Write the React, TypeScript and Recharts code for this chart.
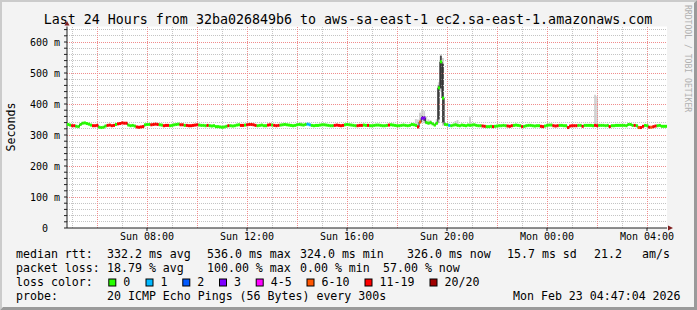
import React from "react";
import { ComposedChart, Line, Bar, XAxis, YAxis, CartesianGrid, ReferenceLine } from "recharts";

// first 5-minute slot starts Sun 04:48, 288 slots = 24h
const START_HOUR = 4.8;
const PER_HOUR = 12;

// median rtt in ms, one value per 5 minutes (rows of 2 hours)
const MEDIAN_MS = [
  334, 332, 330, 330, 328, 327, 334, 338, 339, 337, 335, 332, 330, 330, 331, 325, 324, 325, 329, 331, 332, 330, 331, 334,
  336, 337, 339, 338, 338, 332, 330, 331, 329, 326, 325, 326, 327, 333, 334, 334, 333, 334, 335, 334, 333, 332, 330, 331,
  331, 330, 331, 333, 334, 335, 333, 333, 331, 331, 330, 330, 331, 332, 333, 332, 331, 331, 330, 331, 330, 329, 330, 327,
  327, 326, 325, 326, 328, 330, 330, 329, 330, 332, 333, 331, 331, 332, 333, 334, 334, 333, 331, 330, 331, 332, 330, 330,
  332, 333, 332, 331, 330, 331, 332, 333, 334, 333, 332, 331, 330, 331, 333, 334, 333, 332, 334, 335, 333, 331, 330, 331,
  331, 332, 333, 333, 332, 331, 330, 330, 331, 332, 331, 330, 331, 333, 334, 333, 332, 331, 330, 330, 331, 331, 332, 331,
  331, 330, 330, 331, 332, 332, 331, 330, 330, 331, 332, 333, 332, 331, 330, 330, 331, 332, 331, 330, 331, 334, 333, 331,
  326, 342, 354, 355, 340, 338, 340, 336, 332, 338, 452, 536, 419, 334, 333, 331, 330, 332, 333, 331, 330, 332, 331, 330,
  332, 331, 332, 333, 331, 330, 330, 329, 328, 327, 327, 328, 327, 328, 329, 330, 330, 331, 330, 329, 328, 330, 331, 332,
  331, 330, 327, 328, 330, 331, 331, 330, 329, 330, 330, 328, 327, 329, 331, 332, 332, 330, 329, 330, 331, 331, 330, 330,
  324, 329, 330, 330, 330, 331, 331, 328, 331, 331, 331, 331, 330, 331, 330, 331, 331, 331, 330, 331, 327, 330, 330, 331,
  331, 331, 331, 331, 330, 334, 334, 331, 331, 330, 324, 324, 328, 331, 330, 325, 325, 327, 329, 330, 331, 328, 328, 328,
];

// loss bucket per slot (index into LOSS_COLORS)
const LOSS_CODES = [
  "006600000000666000066660",
  "666660000666600066660066",
  "600000660666666000060000",
  "000006000006606666600000",
  "660666000000000000011000",
  "000000006666600000066600",
  "600000000060000000000000",
  "653300000000000100000000",
  "000000066000600000066600",
  "006000000006600006660000",
  "666660060000066000006000",
  "000000006056600656600000",
];

const LOSS_LABELS = ["0", "1", "2", "3", "4-5", "6-10", "11-19", "20/20"];
const LOSS_COLORS = ["#26ff00", "#00b8ff", "#0059ff", "#7e00ff", "#ff00ff", "#ff5500", "#ff0000", "#a10000"];

// smoke (spread of the 20 pings) where it is visible
const SMOKE_AT = [112, 167, 168, 169, 170, 171, 172, 173, 174, 177, 178, 179, 180, 186, 187, 193, 253, 254];
const SMOKE_LOW = [330, 328, 326, 336, 340, 338, 336, 334, 334, 336, 340, 440, 330, 330, 330, 330, 328, 328];
const SMOKE_HIGH = [342, 352, 350, 372, 382, 378, 360, 351, 348, 352, 470, 560, 548, 345, 348, 359, 430, 425];

const CORE_AT = [170, 171, 178, 179, 180];
const CORE_LOW = [348, 346, 350, 450, 340];
const CORE_HIGH = [362, 360, 460, 556, 530];

const LABEL_HOURS = [8, 12, 16, 20, 24, 28];
const LABEL_TEXT = ["Sun 08:00", "Sun 12:00", "Sun 16:00", "Sun 20:00", "Mon 00:00", "Mon 04:00"];
const MINOR_HOURS = [5, 7, 9, 11, 13, 15, 17, 19, 21, 23, 25, 27];
const MAJOR_HOURS = [6, 8, 10, 12, 14, 16, 18, 20, 22, 24, 26, 28];
const MAJOR_Y = [100, 200, 300, 400, 500, 600];
const MINOR_Y = [20, 40, 60, 80, 120, 140, 160, 180, 220, 240, 260, 280, 320, 340, 360, 380, 420, 440, 460, 480, 520, 540, 560, 580, 620, 640];
const AXIS_Y = [0, 20, 40, 60, 80, 100, 120, 140, 160, 180, 200, 220, 240, 260, 280, 300, 320, 340, 360, 380, 400, 420, 440, 460, 480, 500, 520, 540, 560, 580, 600, 620, 640];

const toSlot = (h: number) => (h - START_HOUR) * PER_HOUR;
const LABEL_TICKS = LABEL_HOURS.map(toSlot);

const LOSS = LOSS_CODES.join("").split("").map(Number);
const rows: any[] = MEDIAN_MS.map((m, i) => ({ t: i + 0.5, median: m, loss: LOSS[i], smoke: null, core: null }));
SMOKE_AT.forEach((i, k) => (rows[i].smoke = [SMOKE_LOW[k], SMOKE_HIGH[k]]));
CORE_AT.forEach((i, k) => (rows[i].core = [CORE_LOW[k], CORE_HIGH[k]]));

const W = 697;
const H = 310;
const PLOT_W = 600;
const STEP = PLOT_W / MEDIAN_MS.length;
const MONO = "'DejaVu Sans Mono', monospace";
const MINOR_GRID = "#c4c4c4";
const MAJOR_GRID = "#f08c8c";

function YTick(props: any) {
  const { x, y, payload } = props;
  const v = payload.value;
  if (v % 100 !== 0) return null;
  return (
    <text x={x} y={y} dy={3.6} textAnchor="end" fontFamily={MONO} fontSize={10} fill="#000" xmlSpace="preserve">
      {v === 0 ? "0  " : `${v} m`}
    </text>
  );
}

function MedianDot(props: any) {
  const { cx, cy, payload, index } = props;
  if (cx == null || cy == null) return null;
  return <rect key={index} x={cx - STEP / 2} y={cy - 1.5} width={STEP + 0.1} height={3} fill={LOSS_COLORS[payload.loss]} />;
}

const STATS = [
  { y: 257.5, parts: [[16, "median rtt:"], [107, "332.2 ms avg"], [207, "536.0 ms max"], [300, "324.0 ms min"], [407, "326.0 ms now"], [507, "15.7 ms sd"], [594, "21.2"], [642, "am/s"]] },
  { y: 271.5, parts: [[16, "packet loss:"], [107, "18.79 % avg"], [207, "100.00 % max"], [300, "0.00 % min"], [383, "57.00 % now"]] },
  { y: 299.5, parts: [[16, "probe:"], [107, "20 ICMP Echo Pings (56 Bytes) every 300s"], [513, "Mon Feb 23 04:47:04 2026"]] },
];
const SWATCH_X = [123.3, 160.5, 197.3, 234, 270.7, 321.5, 379.5, 444.5];

export default function App() {
  return (
    <div style={{ position: "relative", width: W, height: H, background: "#f3f3f3" }}>
      <style>{"body{margin:0}"}</style>
      <ComposedChart width={W} height={H} data={rows} margin={{ top: 26.5, right: 30, bottom: 62, left: 17 }}>
        <XAxis
          dataKey="t"
          type="number"
          domain={[0, 288]}
          allowDataOverflow
          ticks={LABEL_TICKS}
          tickFormatter={(v: number) => LABEL_TEXT[LABEL_TICKS.indexOf(v)] ?? ""}
          height={20}
          tickSize={3}
          tickMargin={2}
          axisLine={{ stroke: "#1f1f1f" }}
          tickLine={{ stroke: "#1f1f1f" }}
          tick={{ fontFamily: MONO, fontSize: 10, fill: "#000" }}
        />
        <XAxis xAxisId="core" dataKey="t" type="number" domain={[0, 288]} allowDataOverflow hide />
        <YAxis
          type="number"
          domain={[0, 650]}
          allowDataOverflow
          ticks={AXIS_Y}
          width={50}
          tickSize={3}
          tickMargin={4}
          interval={0}
          axisLine={{ stroke: "#1f1f1f" }}
          tickLine={{ stroke: "#1f1f1f" }}
          tick={<YTick />}
        />
        <CartesianGrid fill="#ffffff" horizontal={false} vertical={false} />
        {MINOR_HOURS.map((h) => (
          <ReferenceLine key={`mx${h}`} x={toSlot(h)} stroke={MINOR_GRID} strokeDasharray="1 1" shapeRendering="crispEdges" />
        ))}
        {MINOR_Y.map((v) => (
          <ReferenceLine key={`my${v}`} y={v} stroke={MINOR_GRID} strokeDasharray="1 1" shapeRendering="crispEdges" />
        ))}
        {MAJOR_HOURS.map((h) => (
          <ReferenceLine key={`Mx${h}`} x={toSlot(h)} stroke={MAJOR_GRID} strokeDasharray="1 1" shapeRendering="crispEdges" />
        ))}
        {MAJOR_Y.map((v) => (
          <ReferenceLine key={`My${v}`} y={v} stroke={MAJOR_GRID} strokeDasharray="1 1" shapeRendering="crispEdges" />
        ))}
        <Bar dataKey="smoke" fill="#d2d2d2" barSize={STEP} isAnimationActive={false} />
        <Bar xAxisId="core" dataKey="core" fill="#4a4a4a" barSize={STEP} isAnimationActive={false} />
        <Line
          dataKey="median"
          type="step"
          stroke="#202020"
          strokeWidth={1}
          dot={MedianDot}
          activeDot={false}
          isAnimationActive={false}
        />
      </ComposedChart>
      <svg width={W} height={H} style={{ position: "absolute", left: 0, top: 0, pointerEvents: "none" }}>
        <polygon points={`0,0 ${W},0 ${W - 2},2 2,2 2,${H - 2} 0,${H}`} fill="#cbcbcb" />
        <polygon points={`${W},0 ${W},${H} 0,${H} 3,${H - 3} ${W - 3},${H - 3} ${W - 3},3`} fill="#9a9a9a" />
        <text x={348} y={23.5} textAnchor="middle" fontFamily={MONO} fontSize={13.3} fill="#000">
          Last 24 Hours from 32ba026849b6 to aws-sa-east-1 ec2.sa-east-1.amazonaws.com
        </text>
        <text x={14.5} y={127} transform="rotate(-90 14.5 127)" textAnchor="middle" fontFamily={MONO} fontSize={11.6} fill="#000">
          Seconds
        </text>
        <text x={685} y={5} transform="rotate(90 685 5)" fontFamily={MONO} fontSize={8.1} fill="#b0b0b0">
          RRDTOOL / TOBI OETIKER
        </text>
        <polygon points="64.5,25.5 69.5,25.5 67,21" fill="#7f1f1f" />
        <polygon points="668,225.5 668,230.5 673,228" fill="#7f1f1f" />
        {STATS.map((row) =>
          row.parts.map(([x, s]) => (
            <text key={`${row.y}-${x}`} x={x as number} y={row.y} fontFamily={MONO} fontSize={11.6} fill="#000" xmlSpace="preserve">
              {s}
            </text>
          ))
        )}
        <text x={16} y={285.5} fontFamily={MONO} fontSize={11.6} fill="#000">loss color:</text>
        {LOSS_LABELS.map((lab, k) => (
          <g key={lab}>
            <rect x={SWATCH_X[k] - 14.5} y={279} width={7} height={7} fill={LOSS_COLORS[k]} stroke="#000" strokeWidth={1} />
            <text x={SWATCH_X[k]} y={285.5} fontFamily={MONO} fontSize={11.6} fill="#000">{lab}</text>
          </g>
        ))}
      </svg>
    </div>
  );
}
